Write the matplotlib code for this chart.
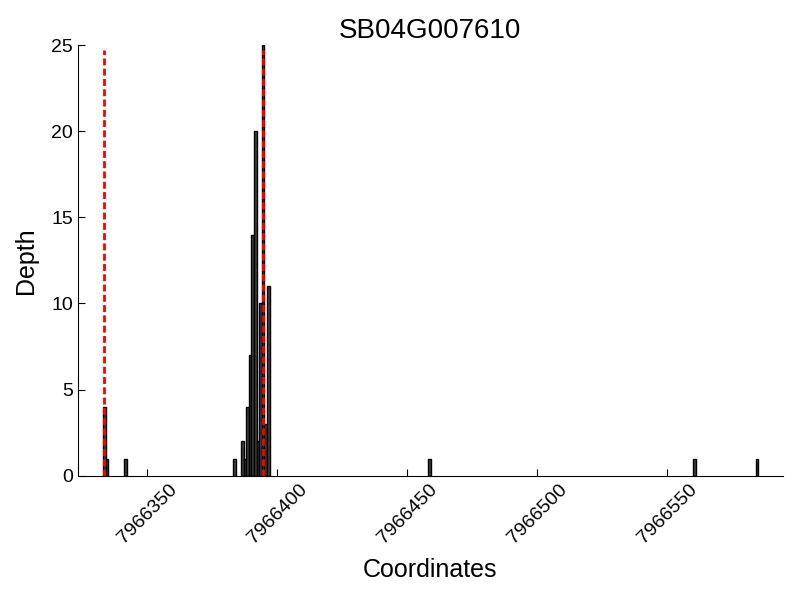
import matplotlib
matplotlib.use("Agg")
import matplotlib.pyplot as plt

# Coordenadas y profundidad
coords = [7966333, 7966334, 7966341, 7966383, 7966386, 7966387, 7966388,
          7966389, 7966390, 7966391, 7966392, 7966393, 7966394, 7966395,
          7966396, 7966458, 7966560, 7966584]
depth = [4, 1, 1, 1, 2, 1, 4, 7, 14, 20, 2, 10, 25, 3, 11, 1, 1, 1]

# Límites del gen (líneas rojas)
gene_bounds = [7966333.4, 7966394.5]

xticks = [7966350, 7966400, 7966450, 7966500, 7966550]

plt.rcParams["font.family"] = ["Liberation Sans", "DejaVu Sans"]

fig = plt.figure(figsize=(8, 6), dpi=100)
ax = fig.add_axes([0.0975, 0.207, 0.881, 0.718])

ax.bar(coords, depth, width=1, align="edge", color="#404040",
       edgecolor="black", linewidth=1)
ax.vlines(gene_bounds, 0, 24.7, colors="red", linewidth=2,
          linestyles=(0, (2.5, 1.2)))

ax.set_xlim(7966323.3, 7966594.4)
ax.set_ylim(0, 25)
ax.set_xticks(xticks)
ax.set_xticklabels([str(t) for t in xticks], rotation=45, fontsize=14)
ax.set_yticks(range(0, 26, 5))
ax.tick_params(axis="y", labelsize=14)
ax.tick_params(direction="in", length=5, top=False, right=False)

ax.spines["top"].set_visible(False)
ax.spines["right"].set_visible(False)

ax.set_title("SB04G007610", fontsize=20, pad=5)
ax.set_xlabel("Coordinates", fontsize=18, labelpad=8)
ax.set_ylabel("Depth", fontsize=18, labelpad=10)

fig.savefig("out.png", dpi=100)
